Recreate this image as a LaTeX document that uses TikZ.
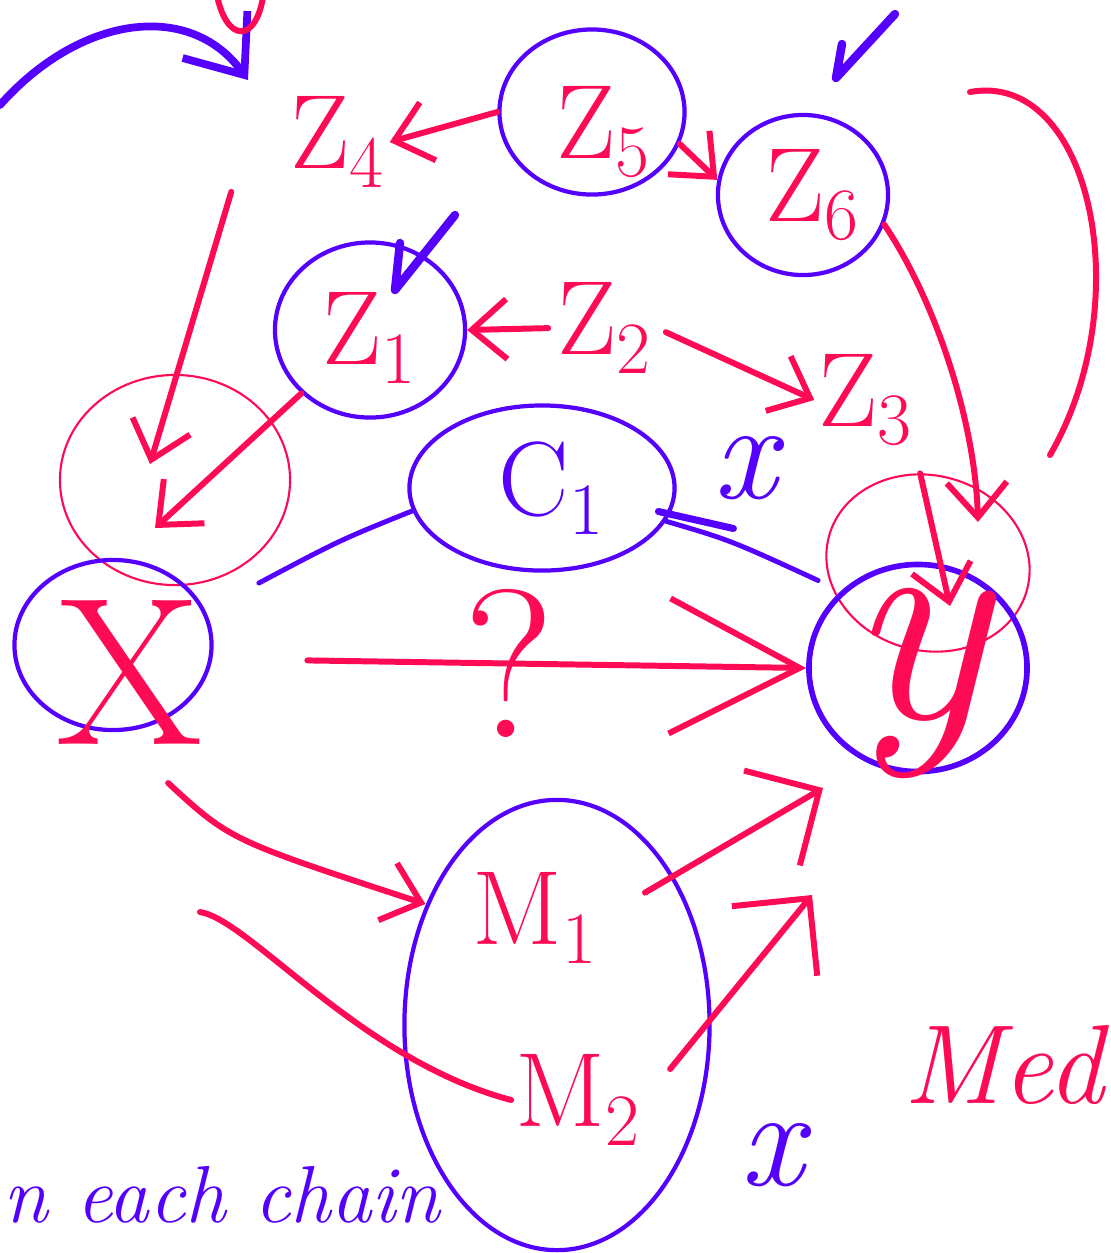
\documentclass[tikz,border=0pt]{standalone}
\usetikzlibrary{positioning, arrows.meta, shapes.geometric, calc}
\usepackage{xcolor}
\definecolor{inkred}{HTML}{FF0A55}
\definecolor{inkblue}{HTML}{5500FF}
\newcommand{\lab}[2]{#1\textsubscript{#2}}

\begin{document}
\begin{tikzpicture}[
  x=0.01cm, y=-0.01cm,
  redarrow/.style={-{Straight Barb[length=3.5mm, width=6mm]}, draw=inkred, line width=1.7pt, line cap=round},
  bigarrow/.style={-{Straight Barb[length=1.3cm, width=1.35cm]}, draw=inkred, line width=1.7pt, line cap=round},
  cornerarrow/.style={-{Straight Barb[length=5.5mm, width=11mm]}, draw=inkred, line width=1.7pt, line cap=round},
  redline/.style={draw=inkred, line width=1.7pt, line cap=round},
  bluearrow/.style={-{Straight Barb[length=5mm, width=8mm]}, draw=inkblue, line width=2.2pt, line cap=round},
  blueline/.style={draw=inkblue, line width=1.4pt, line cap=round},
  bluetick/.style={draw=inkblue, line width=2.4pt, line cap=round, line join=round},
  bluering/.style={ellipse, draw=inkblue, line width=1.2pt, inner sep=0pt},
  redring/.style={ellipse, draw=inkred, line width=0.6pt, inner sep=0pt},
  zlabel/.style={text=inkred, font=\fontsize{30}{34}\selectfont, inner sep=1pt},
  clabel/.style={text=inkblue, font=\fontsize{30}{34}\selectfont, inner sep=1pt},
  bigletter/.style={text=inkred, font=\fontsize{60}{64}\selectfont, inner sep=0pt},
  qmark/.style={text=inkred, font=\fontsize{60}{64}\selectfont, inner sep=0pt},
  bluemark/.style={text=inkblue, font=\fontsize{40}{44}\selectfont\itshape, inner sep=0pt},
  handtext/.style={font=\fontsize{32}{36}\selectfont\itshape, inner sep=0pt}
]
\useasboundingbox (0,0) rectangle (1111,1253);

% -------- TOP ROW: Z4 <- Z5 -> Z6 --------
\node[zlabel] (z4) at (338,142) {\lab{Z}{4}};
\node[bluering, minimum width=1.85cm, minimum height=1.65cm,
      label={[zlabel, xshift=0.12cm, yshift=-0.2cm]center:\lab{Z}{5}}] (z5) at (592,112) {};
\node[bluering, minimum width=1.7cm, minimum height=1.6cm,
      label={[zlabel, xshift=0.1cm]center:\lab{Z}{6}}] (z6) at (803,195) {};

% -------- MIDDLE ROW: Z1 <- Z2 -> Z3 --------
\node[bluering, minimum width=1.9cm, minimum height=1.75cm,
      label={[zlabel, yshift=-0.08cm]center:\lab{Z}{1}}] (z1) at (370,330) {};
\node[zlabel] (z2) at (605,328) {\lab{Z}{2}};
\node[zlabel] (z3) at (866,400) {\lab{Z}{3}};

% -------- C1, X, Y --------
\node[bluering, minimum width=2.65cm, minimum height=1.65cm,
      label={[clabel, xshift=0.1cm]center:\lab{C}{1}}] (c1) at (542,488) {};
\node[redring, minimum width=2.3cm, minimum height=2.1cm] (xr) at (175,480) {};
\node[bluering, minimum width=1.97cm, minimum height=1.7cm,
      label={[bigletter, xshift=0.17cm, yshift=-0.27cm]center:X}] (x) at (113,645) {};
\node[redring, minimum width=2.05cm, minimum height=1.75cm, rotate=-15] (yr) at (928,563) {};
\node[bluering, line width=1.6pt, minimum width=2.18cm, minimum height=2.07cm,
      label={[bigletter, font=\fontsize{84}{88}\selectfont\itshape, yshift=-0.15cm]center:y}] (y) at (918,668) {};

% -------- MEDIATORS --------
\node[bluering, minimum width=3.05cm, minimum height=4.5cm] (m) at (557,1025) {};
\node[zlabel] (m1) at (535,918) {\lab{M}{1}};
\node[zlabel] (m2) at (578,1100) {\lab{M}{2}};

% -------- MARKS AND NOTES --------
\node[bluemark] (cx) at (745,468) {x};
\node[bluemark] (mx) at (772,1155) {x};
\node[handtext, text=inkred, anchor=base west] (med) at (903,1103) {Med};
\node[handtext, text=inkblue, font=\fontsize{23}{27}\selectfont\itshape, anchor=base west] (chain) at (3,1222) {n each chain};
\draw[bluetick] (400,243) -- (395,290) -- (455,215);
\draw[bluetick] (842,44) -- (836,78) -- (895,14);

% free ends
\coordinate (xtip1) at (150,464);
\coordinate (xtip2) at (155,528);
\coordinate (ytip1) at (950,606);
\coordinate (ytip2) at (978,522);
\coordinate (ytip3) at (823,788);
\coordinate (ytip4) at (812,895);
\coordinate (arcA) at (970,92);
\coordinate (arcB) at (1050,455);
\coordinate (m2in) at (200,912);
\coordinate (tlA) at (0,105);
\coordinate (tlB) at (248,80);

% Setas entre os Z
\draw[redarrow] (z5.west) -- (z4.east);
\draw[redarrow] (z5.-20) -- (z6.170);
\draw[redarrow, shorten <=0.05cm] (z2.west) -- (z1.east);
\draw[redarrow, shorten <=0.1cm] (z2.east) -- (z3.west);

% Setas para X e Y
\draw[redarrow] ($(z4.south west)+(-55,0)$) -- (xtip1);
\draw[redarrow] (z1.south west) -- (xtip2);
\draw[redarrow] (z6.-20) .. controls (935,300) and (975,420) .. (ytip2);
\draw[redarrow] (yr.110) -- (ytip1);
\draw[redline] (arcA) .. controls (1090,70) and (1140,300) .. (arcB);

% C1 ligado a X e Y
\draw[blueline, shorten >=0.6cm] (c1.190) .. controls (340,540) .. (x.20);
\draw[blueline, shorten >=0.25cm] (c1.-15) .. controls (730,540) .. (y.135);
\draw[blueline, line width=2pt] (c1.-8) ++(-15,5) -- ++(75,17);

% X -> Y
\draw[bigarrow, shorten <=0.95cm] (x.-8) -- node[qmark] (q) {?} (y.west);

% Mediadores
\draw[redarrow, shorten <=0.75cm, shorten >=0.45cm] (x.south) .. controls (230,840) .. (m1.west);
\draw[redline] (m2in) .. controls (250,920) and (360,1060) .. (m2.west);
\draw[cornerarrow, shorten <=0.5cm] (m1.east) -- (ytip3);
\draw[cornerarrow, shorten <=0.4cm] (m2.east) -- (ytip4);

% Seta azul no canto
\draw[bluearrow] (tlA) .. controls (80,15) and (190,0) .. (tlB);
\draw[redline] (216,-10) .. controls (225,45) and (258,45) .. (264,-10);

\end{tikzpicture}
\end{document}
